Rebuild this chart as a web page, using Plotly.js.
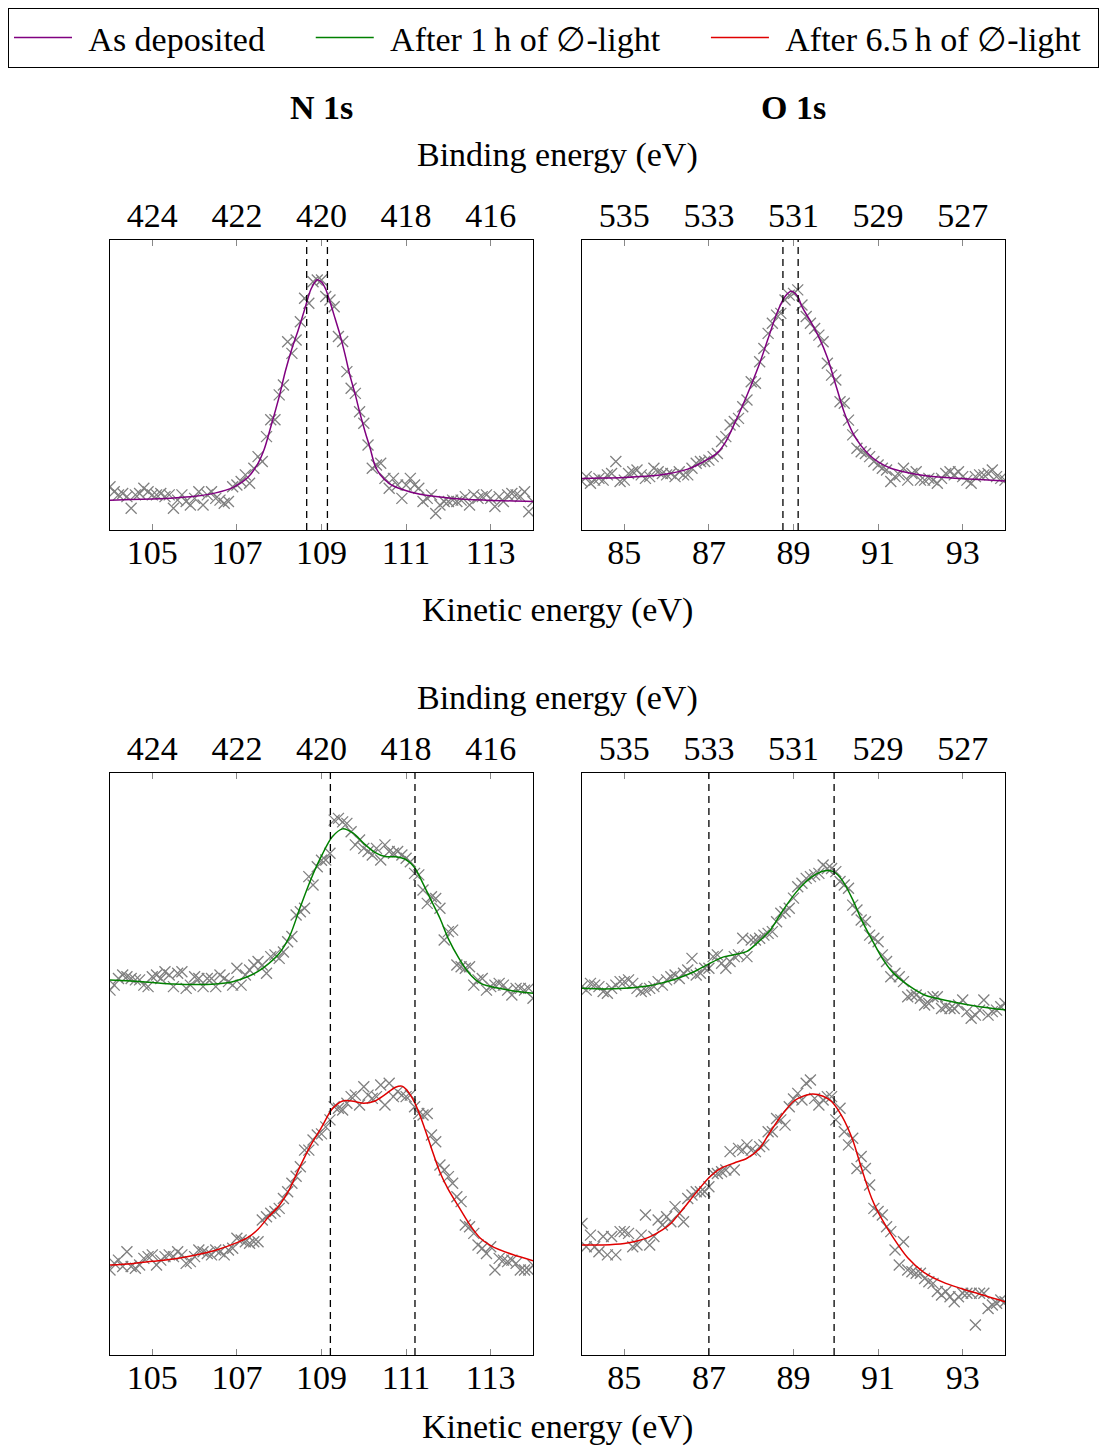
<!DOCTYPE html>
<html>
<head>
<meta charset="utf-8">
<script src="https://cdn.plot.ly/plotly-3.0.1.min.js"></script>
<style>
  html, body { margin: 0; padding: 0; background: #fff; }
  #chart { width: 1102px; height: 1446px; }
</style>
</head>
<body>
<div id="chart"></div>
<script>
// ---------- DATA ----------
const seriesNames = ["As deposited", "After 1\u2009h of \u2205-light", "After 6.5\u2009h of \u2205-light"];
const panelTitles = ["N 1s", "O 1s"];
const bindingTitle = "Binding energy (eV)";
const kineticTitle = "Kinetic energy (eV)";

// kinetic-energy sampling of the measured points (eV)
const n1sKE = [104.0,104.1,104.2,104.3,104.4,104.5,104.6,104.7,104.8,104.9,105.0,105.1,105.2,105.3,105.4,105.5,105.6,105.7,105.8,105.9,106.0,106.1,106.2,106.3,106.4,106.5,106.6,106.7,106.8,106.9,107.0,107.1,107.2,107.3,107.4,107.5,107.6,107.7,107.8,107.9,108.0,108.1,108.2,108.3,108.4,108.5,108.6,108.7,108.8,108.9,109.0,109.1,109.2,109.3,109.4,109.5,109.6,109.7,109.8,109.9,110.0,110.1,110.2,110.3,110.4,110.5,110.6,110.7,110.8,110.9,111.0,111.1,111.2,111.3,111.4,111.5,111.6,111.7,111.8,111.9,112.0,112.1,112.2,112.3,112.4,112.5,112.6,112.7,112.8,112.9,113.0,113.1,113.2,113.3,113.4,113.5,113.6,113.7,113.8,113.9,114.0];
const o1sKE = [84.0,84.1,84.2,84.3,84.4,84.5,84.6,84.7,84.8,84.9,85.0,85.1,85.2,85.3,85.4,85.5,85.6,85.7,85.8,85.9,86.0,86.1,86.2,86.3,86.4,86.5,86.6,86.7,86.8,86.9,87.0,87.1,87.2,87.3,87.4,87.5,87.6,87.7,87.8,87.9,88.0,88.1,88.2,88.3,88.4,88.5,88.6,88.7,88.8,88.9,89.0,89.1,89.2,89.3,89.4,89.5,89.6,89.7,89.8,89.9,90.0,90.1,90.2,90.3,90.4,90.5,90.6,90.7,90.8,90.9,91.0,91.1,91.2,91.3,91.4,91.5,91.6,91.7,91.8,91.9,92.0,92.1,92.2,92.3,92.4,92.5,92.6,92.7,92.8,92.9,93.0,93.1,93.2,93.3,93.4,93.5,93.6,93.7,93.8,93.9,94.0];

// measured intensities (arb. units)
const n1sDepData = [14.9,13.2,12.1,12.6,11.5,7.5,12.1,12.6,14.4,13.2,12.1,12.1,12.6,11.5,12.1,7.5,10.3,12.1,9.8,8.6,10.9,13.2,8.6,12.1,13.2,10.9,10.3,9.2,9.8,14.9,15.5,16.7,19.0,16.1,21.3,25.3,23.6,32.2,38.0,38.0,46.6,50.0,64.9,60.9,65.5,71.8,79.9,78.2,85.6,86.2,86.2,80.5,79.3,77.0,66.7,65.0,54.6,48.9,47.1,40.8,36.8,29.3,21.3,22.4,23.0,17.8,14.4,17.8,15.5,10.9,15.5,17.8,15.5,14.4,9.8,10.9,12.1,5.7,8.6,9.8,9.8,10.3,9.8,10.3,11.5,8.6,12.1,10.9,11.5,12.1,10.9,8.1,11.5,9.8,12.1,12.6,12.1,11.5,13.2,6.3,9.8];
const o1sDepData = [16.7,18.4,16.1,17.2,17.8,17.2,19.0,19.5,23.6,16.7,17.2,19.5,20.1,20.7,19.0,17.8,18.4,21.3,20.1,19.5,19.0,19.5,18.4,20.1,19.0,19.0,21.3,23.0,23.6,23.6,24.1,25.3,26.4,30.5,32.2,36.2,37.4,38.5,42.5,44.8,51.1,50.6,58.0,62.6,67.8,71.3,74.1,74.7,79.3,81.0,81.6,82.8,77.6,73.6,71.3,69.5,67.2,64.9,57.5,53.4,51.7,44.2,43.7,37.9,32.8,28.2,27.0,26.4,25.3,23.6,22.4,21.3,20.7,16.7,18.4,19.0,21.3,17.2,19.5,20.1,17.2,17.2,17.8,17.2,16.1,17.8,19.5,20.1,19.0,20.1,18.4,17.2,16.1,18.4,19.0,19.0,19.5,20.7,18.4,17.8,17.2];
const n1s1hData = [125.4,127.1,129.4,130.6,130.0,129.4,128.9,128.9,127.1,126.6,130.0,130.6,129.4,131.7,130.6,126.6,131.2,131.7,126.0,127.1,130.0,129.4,126.6,129.4,129.4,126.6,130.6,129.4,128.3,127.1,132.9,127.1,130.6,132.3,134.0,135.2,134.0,131.2,136.9,137.5,136.3,138.5,142.0,143.8,151.2,152.3,153.5,164.4,161.5,167.8,170.0,170.1,172.4,183.8,184.4,183.2,182.7,179.8,175.3,177.0,174.1,173.0,171.8,174.1,170.1,175.3,173.0,172.4,173.0,171.8,170.7,169.5,165.5,165.0,159.8,155.2,157.5,156.9,153.5,142.6,145.5,146.0,134.0,133.4,132.9,133.4,127.1,128.9,129.4,125.4,126.6,127.1,127.7,127.1,125.4,123.7,126.0,126.0,125.4,126.0,122.6];
const n1s6hData = [29.2,31.5,32.6,30.4,35.5,30.4,29.8,30.9,33.2,33.8,34.4,30.9,32.6,33.8,34.4,33.8,35.5,34.4,31.5,32.1,33.8,36.1,35.5,34.9,34.4,36.1,35.5,34.4,36.1,36.7,40.1,39.5,38.9,38.4,38.9,38.9,46.4,47.5,48.7,49.3,50.4,53.8,56.1,59.0,61.4,64.7,70.4,70.4,73.9,75.6,76.0,78.4,80.8,85.3,84.8,84.2,86.5,88.8,89.3,85.9,92.2,89.3,88.2,88.8,92.8,85.9,93.4,88.8,90.5,89.3,88.8,89.3,85.3,83.0,82.5,83.0,75.6,73.3,65.3,63.6,61.3,59.0,54.4,52.7,44.7,44.1,41.8,37.8,36.7,34.9,37.2,29.2,33.2,32.6,32.1,32.6,31.5,29.2,29.2,29.2,30.9];
const o1s1hData = [126.6,125.4,127.7,127.1,126.6,124.9,124.3,126.0,127.1,128.3,128.3,128.9,127.7,126.0,124.9,125.4,126.0,126.6,128.3,127.1,128.9,130.0,130.6,129.4,131.2,132.3,136.3,130.6,131.2,132.9,132.9,136.9,137.5,134.6,132.9,135.2,136.9,137.5,143.2,136.9,142.6,142.6,143.2,144.3,144.9,145.5,148.9,151.8,152.3,153.5,157.0,160.9,162.1,163.8,164.4,165.0,165.5,168.4,167.2,167.2,166.1,162.7,161.5,160.4,154.6,152.9,149.5,148.9,144.3,143.2,142.0,137.5,135.2,130.0,131.2,130.0,128.3,123.1,123.7,123.7,122.6,120.3,120.8,123.1,123.1,119.1,119.7,119.1,119.1,120.3,122.0,118.0,115.7,116.8,118.5,122.0,116.8,118.0,118.5,119.7,120.8];
const o1s6hData = [45.2,37.2,41.2,37.2,35.5,40.7,34.4,40.7,34.4,42.4,42.4,41.8,37.2,37.8,41.2,48.1,37.8,40.7,46.4,44.7,47.5,45.8,51.0,48.7,45.8,53.8,55.0,56.1,56.1,56.1,57.8,62.4,62.4,63.0,63.6,69.9,63.6,71.0,70.4,72.2,70.4,69.9,71.6,72.2,76.7,76.7,81.3,80.8,79.0,85.3,88.0,89.9,87.6,93.4,94.5,88.2,85.9,87.6,88.8,88.8,80.8,84.8,76.7,72.2,74.5,64.1,68.2,64.1,58.4,50.4,49.3,48.1,44.1,42.4,36.1,30.9,38.9,29.2,28.6,28.1,28.1,26.3,25.2,24.6,21.8,20.6,21.8,20.0,18.3,20.0,21.2,21.2,21.2,10.3,21.2,21.2,16.0,17.2,17.8,18.9,18.3];

// fitted envelopes (arb. units)
const n1sDepFitKE = [104.0,104.5,105.0,105.5,106.0,106.5,106.9,107.25,107.5,107.65,107.8,108.0,108.15,108.3,108.45,108.6,108.75,108.9,109.0,109.1,109.2,109.32,109.44,109.56,109.67,109.8,109.91,110.03,110.15,110.26,110.38,110.62,110.86,111.33,112.1,112.9,114.0];
const n1sDepFit   = [10.3,10.5,10.7,11.0,11.6,12.8,14.6,18.0,23.0,28.0,35.5,46.0,55.0,62.5,69.0,76.0,83.0,86.3,85.5,83.0,78.7,73.0,67.2,60.3,53.4,46.6,40.2,33.9,28.2,22.4,19.2,15.8,14.2,12.3,10.9,10.3,9.8];
const o1sDepFitKE = [84.0,84.5,85.0,85.5,86.0,86.5,86.8,87.0,87.2,87.4,87.6,87.8,88.0,88.2,88.4,88.6,88.8,88.95,89.1,89.2,89.4,89.6,89.8,90.0,90.2,90.4,90.6,90.8,91.0,91.3,91.6,92.0,92.5,93.0,93.5,94.0];
const o1sDepFit   = [17.8,17.9,18.1,18.5,19.3,21.0,23.0,24.6,26.6,30.5,36.5,43.0,50.0,57.5,66.0,74.5,80.5,82.3,80.5,77.0,72.0,66.5,59.5,50.0,40.5,33.5,29.0,25.8,23.5,21.3,20.1,19.0,18.2,17.7,17.3,16.9];
const n1s1hFitKE = [104.0,104.5,105.0,105.5,106.0,106.5,106.9,107.25,107.5,107.75,108.0,108.25,108.5,108.75,109.0,109.25,109.5,109.75,110.0,110.25,110.5,110.75,111.0,111.2,111.4,111.6,111.8,112.0,112.25,112.5,112.75,113.0,113.5,114.0];
const n1s1hFit   = [128.9,128.5,128.0,127.5,127.3,127.5,128.3,130.0,131.8,134.5,138.0,144.0,154.0,163.5,171.5,178.0,180.8,179.3,175.8,172.8,171.3,171.2,170.2,167.5,162.0,156.0,150.1,143.0,136.3,131.0,127.8,126.6,125.2,124.3];
const n1s6hFitKE = [104.0,104.5,105.0,105.5,106.0,106.5,107.0,107.25,107.5,107.75,108.0,108.25,108.5,108.75,109.0,109.25,109.5,109.75,110.0,110.25,110.5,110.75,110.9,111.0,111.2,111.4,111.6,111.8,112.0,112.25,112.5,112.75,113.0,113.5,114.0];
const n1s6hFit   = [30.9,31.4,32.2,33.0,34.3,36.0,38.6,40.3,43.2,47.5,51.4,57.2,65.0,72.2,78.2,84.5,87.3,87.2,86.5,87.2,89.5,92.0,92.4,91.3,86.8,79.5,71.0,62.8,56.8,50.8,44.9,40.2,37.6,34.6,32.4];
const o1s1hFitKE = [84.0,84.5,85.0,85.5,85.85,86.25,86.65,87.0,87.35,87.65,87.9,88.15,88.45,88.75,89.05,89.25,89.45,89.75,89.95,90.15,90.4,90.6,90.85,91.1,91.35,91.65,92.1,92.75,93.4,94.0];
const o1s1hFit   = [126.0,125.8,126.0,126.7,127.7,129.4,131.7,134.4,136.8,137.7,138.7,141.7,146.0,152.8,158.8,162.0,164.5,166.4,166.0,163.2,156.5,149.8,142.8,136.3,131.4,127.7,123.7,121.4,119.7,118.6];
const o1s6hFitKE = [84.0,84.5,85.0,85.3,85.6,85.9,86.1,86.4,86.7,87.0,87.3,87.6,87.9,88.2,88.45,88.75,89.0,89.2,89.45,89.7,89.9,90.15,90.4,90.6,90.85,91.1,91.35,91.7,92.1,92.6,93.2,94.0];
const o1s6hFit   = [37.8,37.8,38.3,39.2,40.6,43.0,45.2,50.4,55.8,60.9,64.3,66.0,67.6,71.0,76.7,83.0,87.2,88.8,89.7,88.9,87.1,81.9,73.9,64.5,53.8,46.4,40.5,33.4,28.2,24.6,21.8,18.3];

// peak-position markers (kinetic energy, eV)
const n1sDepPeaks = [108.65, 109.14];
const o1sDepPeaks = [88.75, 89.11];
const n1sIrrPeaks = [109.21, 111.21];
const o1sIrrPeaks = [87.0, 89.96];

// axis ticks
const n1sKETicks = [105, 107, 109, 111, 113];
const o1sKETicks = [85, 87, 89, 91, 93];
const n1sBETicks = [424, 422, 420, 418, 416];
const o1sBETicks = [535, 533, 531, 529, 527];
const n1sKERange = [104, 114];
const o1sKERange = [84, 94];
const n1sBERange = [425, 415];   // BE = 529 eV - KE
const o1sBERange = [536, 526];   // BE = 620 eV - KE

// ---------- STYLE ----------
const W = 1102, H = 1446;
const FONT = "Liberation Serif, 'DejaVu Serif', serif";
const FS = 34;
const colDep = "#800080", col1h = "#008000", col6h = "#e00000";
const markerGray = "#808080";
const LEAD = "\u00a0\u200a";
const TRAIL_MID = "\u2003\u2009", TRAIL_LAST = "\u00a0\u200a";

function px(x) { return x / W; }
function py(y) { return 1 - y / H; }

const xL = [px(110), px(533)], xR = [px(582), px(1005)];
const yTop = [py(530), py(240)], yBot = [py(1355), py(773)];

function pts(x, y, xa, ya) {
  return { x: x, y: y, xaxis: xa, yaxis: ya, type: "scatter", mode: "markers",
    marker: { symbol: "x-thin", size: 11, color: markerGray, line: { color: markerGray, width: 1.3 } },
    showlegend: false, hoverinfo: "skip" };
}
function fit(x, y, xa, ya, color, name, show, trail) {
  return { x: x, y: y, xaxis: xa, yaxis: ya, type: "scatter", mode: "lines",
    line: { color: color, width: 1.5, shape: "spline", smoothing: 0.8 },
    name: LEAD + name + (trail || TRAIL_MID), showlegend: show };
}
function blank(xa, ya) {
  return { x: [], y: [], xaxis: xa, yaxis: ya, type: "scatter", mode: "markers", showlegend: false, hoverinfo: "skip" };
}

const traces = [
  pts(n1sKE, n1sDepData, "x", "y"),
  pts(o1sKE, o1sDepData, "x2", "y2"),
  pts(n1sKE, n1s1hData, "x3", "y3"),
  pts(n1sKE, n1s6hData, "x3", "y3"),
  pts(o1sKE, o1s1hData, "x4", "y4"),
  pts(o1sKE, o1s6hData, "x4", "y4"),
  fit(n1sDepFitKE, n1sDepFit, "x", "y", colDep, seriesNames[0], true),
  fit(o1sDepFitKE, o1sDepFit, "x2", "y2", colDep, seriesNames[0], false),
  fit(n1s1hFitKE, n1s1hFit, "x3", "y3", col1h, seriesNames[1], true),
  fit(n1s6hFitKE, n1s6hFit, "x3", "y3", col6h, seriesNames[2], true, TRAIL_LAST),
  fit(o1s1hFitKE, o1s1hFit, "x4", "y4", col1h, seriesNames[1], false),
  fit(o1s6hFitKE, o1s6hFit, "x4", "y4", col6h, seriesNames[2], false, TRAIL_LAST),
  blank("x5", "y"), blank("x6", "y2"), blank("x7", "y3"), blank("x8", "y4")
];

function keAxis(domain, range, ticks, anchor) {
  return { domain: domain, range: range, anchor: anchor, tickmode: "array", tickvals: ticks,
    ticktext: ticks.map(String), ticks: "inside", ticklen: 6, tickwidth: 1, tickcolor: "#888",
    ticklabelstandoff: -8,
    showline: true, mirror: true, linecolor: "#000", linewidth: 1.3, showgrid: false, zeroline: false,
    tickfont: { family: FONT, size: FS, color: "#000" }, fixedrange: true };
}
function beAxis(over, range, ticks, anchor) {
  return { overlaying: over, side: "top", anchor: anchor, range: range, tickmode: "array", tickvals: ticks,
    ticktext: ticks.map(String), ticks: "inside", ticklen: 6, tickwidth: 1, tickcolor: "#888",
    ticklabelstandoff: 5,
    showline: false, showgrid: false, zeroline: false,
    tickfont: { family: FONT, size: FS, color: "#000" }, fixedrange: true };
}
function yAxis(domain, range, anchor) {
  return { domain: domain, range: range, anchor: anchor, showticklabels: false, ticks: "",
    showline: true, mirror: true, linecolor: "#000", linewidth: 1.3, showgrid: false, zeroline: false, fixedrange: true };
}

const shapes = [];
function vlines(vals, xa, ya) {
  vals.forEach(v => shapes.push({ type: "line", xref: xa, yref: ya + " domain", x0: v, x1: v, y0: 0, y1: 1,
    line: { color: "#000", width: 1.3, dash: "7px,5px" } }));
}
vlines(n1sDepPeaks, "x", "y");
vlines(o1sDepPeaks, "x2", "y2");
vlines(n1sIrrPeaks, "x3", "y3");
vlines(o1sIrrPeaks, "x4", "y4");

function ann(text, x, y, bold) {
  return { text: bold ? "<b>" + text + "</b>" : text, xref: "paper", yref: "paper", x: px(x), y: py(y),
    xanchor: "center", yanchor: "middle", showarrow: false, font: { family: FONT, size: FS, color: "#000" } };
}

const layout = {
  width: W, height: H,
  margin: { l: 0, r: 0, t: 0, b: 0 },
  paper_bgcolor: "#fff", plot_bgcolor: "rgba(0,0,0,0)",
  font: { family: FONT, size: FS, color: "#000" },
  showlegend: true,
  legend: { orientation: "h", x: px(8), y: py(8), xanchor: "left", yanchor: "top",
    bordercolor: "#000", borderwidth: 1, bgcolor: "#fff", itemwidth: 58,
    font: { family: FONT, size: FS, color: "#000" }, traceorder: "normal" },
  xaxis: keAxis(xL, n1sKERange, n1sKETicks, "y"),
  yaxis: yAxis(yTop, [0, 100], "x"),
  xaxis2: keAxis(xR, o1sKERange, o1sKETicks, "y2"),
  yaxis2: yAxis(yTop, [0, 100], "x2"),
  xaxis3: keAxis(xL, n1sKERange, n1sKETicks, "y3"),
  yaxis3: yAxis(yBot, [0, 200], "x3"),
  xaxis4: keAxis(xR, o1sKERange, o1sKETicks, "y4"),
  yaxis4: yAxis(yBot, [0, 200], "x4"),
  xaxis5: beAxis("x", n1sBERange, n1sBETicks, "y"),
  xaxis6: beAxis("x2", o1sBERange, o1sBETicks, "y2"),
  xaxis7: beAxis("x3", n1sBERange, n1sBETicks, "y3"),
  xaxis8: beAxis("x4", o1sBERange, o1sBETicks, "y4"),
  shapes: shapes,
  annotations: [
    ann(panelTitles[0], 321, 108, true),
    ann(panelTitles[1], 793, 108, true),
    ann(bindingTitle, 557, 155),
    ann(kineticTitle, 557, 610),
    ann(bindingTitle, 557, 698),
    ann(kineticTitle, 557, 1427)
  ]
};

Plotly.newPlot("chart", traces, layout, { staticPlot: true, displayModeBar: false });
</script>
</body>
</html>
